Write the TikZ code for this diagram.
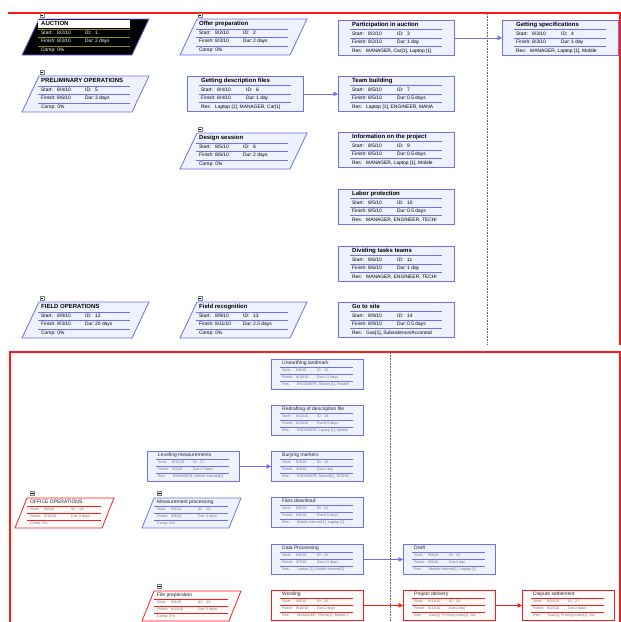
\documentclass[tikz,border=0pt]{standalone}
\usepackage{fontspec}
\setmainfont{Liberation Sans}
\usetikzlibrary{arrows.meta}
\definecolor{myblue}{RGB}{110,110,240}
\definecolor{myfill}{RGB}{238,242,255}
\definecolor{myred}{RGB}{255,25,25}
\definecolor{redfill}{RGB}{255,251,251}
\definecolor{olivetwo}{RGB}{150,140,0}
\colorlet{bc}{myblue}
\colorlet{bf}{myfill}
\tikzset{
 ttl/.style={anchor=west,inner sep=0pt,text height=4.4pt,text depth=1.3pt,font=\fontsize{6}{6}\selectfont\bfseries},
 rowt/.style={anchor=west,inner sep=0pt,text height=3.5pt,text depth=1pt,font=\fontsize{4.9}{5}\selectfont},
 bttl/.style={anchor=west,inner sep=0pt,text height=3.7pt,text depth=1.1pt,font=\fontsize{5}{5}\selectfont,text=black!85},
 browt/.style={anchor=west,inner sep=0pt,text height=2.7pt,text depth=0.8pt,font=\fontsize{3.7}{4}\selectfont,text=black!55},
 sepl/.style={draw=bc,line width=0.7pt},
 bsepl/.style={draw=bc,line width=0.6pt},
 topbox/.style={draw=bc,fill=bf,line width=0.8pt,minimum width=116pt,minimum height=35pt,inner sep=0pt,anchor=north west},
 botbox/.style={draw=bc,fill=bf,line width=0.8pt,minimum width=92pt,minimum height=30pt,inner sep=0pt,anchor=north west},
 paral/.style={draw=bc,fill=bf,line width=0.8pt},
 conn/.style={draw=myblue,line width=0.7pt,-{Triangle[length=4.5pt,width=4.5pt]}},
 rconn/.style={draw=myred,line width=0.8pt,-{Triangle[length=4.5pt,width=4.5pt]}},
 framel/.style={draw=myred,line width=2pt},
 divl/.style={draw=black!60,densely dotted,line width=0.6pt},
}
\newcommand\minusbx[2]{%
 \draw[draw=gray,fill=white,line width=0.4pt] (#1-2,#2-2) rectangle (#1+2,#2+2);
 \draw[line width=0.4pt] (#1-1.2,#2) -- (#1+1.2,#2);}
\newcommand\TopRect[9]{%
\begin{scope}[shift={(#2,#3)}]
 \node[topbox] (#1) at (0,0) {};
 \node[ttl] at (14,4.8) {#4};
 \draw[sepl] (12,9.5) -- (104,9.5);
 \node[rowt] at (14,14) {Start:};\node[rowt] at (30,14) {#5};
 \node[rowt] at (59,14) {ID:};\node[rowt] at (69,14) {#6};
 \draw[sepl] (12,18) -- (104,18);
 \node[rowt] at (14,22.5) {Finish:};\node[rowt] at (30,22.5) {#7};
 \node[rowt] at (59,22.5) {Dur:};\node[rowt] at (69,22.5) {#8};
 \draw[sepl] (12,26.5) -- (104,26.5);
 \node[rowt] at (14,31) {Res:};\node[rowt] at (28,31) {#9};
\end{scope}}
\newcommand\TopPara[8]{%
\begin{scope}[shift={(#2,#3)}]
 \draw[paral] (0,36) -- (17,0) -- (127,0) -- (110,36) -- cycle;
 \coordinate (#1) at (63,18);
 \minusbx{20}{-4}
 \node[ttl] at (19,5) {#4};
 \draw[sepl] (16,10) -- (108,10);
 \node[rowt] at (19,14) {Start:};\node[rowt] at (35,14) {#5};
 \node[rowt] at (63,14) {ID:};\node[rowt] at (73,14) {#6};
 \draw[sepl] (16,18) -- (108,18);
 \node[rowt] at (19,22.5) {Finish:};\node[rowt] at (35,22.5) {#7};
 \node[rowt] at (63,22.5) {Dur:};\node[rowt] at (73,22.5) {#8};
 \draw[sepl] (16,27) -- (108,27);
 \node[rowt] at (19,31.5) {Comp: 0\%};
\end{scope}}
\newcommand\BotRect[9]{%
\begin{scope}[shift={(#2,#3)}]
 \node[botbox] (#1) at (0,0) {};
 \node[bttl] at (11,4.5) {#4};
 \draw[bsepl] (9,8.5) -- (82,8.5);
 \node[browt] at (11,12) {Start:};\node[browt] at (25,12) {#5};
 \node[browt] at (46,12) {ID:};\node[browt] at (53,12) {#6};
 \draw[bsepl] (9,15.5) -- (82,15.5);
 \node[browt] at (11,19) {Finish:};\node[browt] at (25,19) {#7};
 \node[browt] at (46,19) {Dur:};\node[browt] at (53,19) {#8};
 \draw[bsepl] (9,22.5) -- (82,22.5);
 \node[browt] at (11,26) {Res:};\node[browt] at (26,26) {#9};
\end{scope}}
\newcommand\BotPara[8]{%
\begin{scope}[shift={(#2,#3)}]
 \draw[paral] (0,30) -- (12,0) -- (99,0) -- (87,30) -- cycle;
 \coordinate (#1) at (50,15);
 \minusbx{17.5}{-4.5}
 \node[bttl] at (15,4.5) {#4};
 \draw[bsepl] (12,8) -- (86,8);
 \node[browt] at (15,11.5) {Start:};\node[browt] at (29,11.5) {#5};
 \node[browt] at (56,11.5) {ID:};\node[browt] at (64,11.5) {#6};
 \draw[bsepl] (12,15) -- (86,15);
 \node[browt] at (15,18.5) {Finish:};\node[browt] at (29,18.5) {#7};
 \node[browt] at (56,18.5) {Dur:};\node[browt] at (64,18.5) {#8};
 \draw[bsepl] (12,22) -- (86,22);
 \node[browt] at (15,26) {Comp: 0\%};
\end{scope}}
\begin{document}
\begin{tikzpicture}[x=1pt,y=-1pt]
\useasboundingbox[fill=white] (0,0) rectangle (621,622);
% frames and dividers
\draw[framel,line width=2.5pt] (8,13) -- (621,13);
\draw[framel] (619.5,13) -- (619.5,345);
\draw[framel] (10,622) -- (10,352) -- (619.5,352) -- (619.5,622);
\draw[divl] (487,14) -- (487,345);
\draw[divl] (390,353) -- (390,622);
% AUCTION (summary, highlighted)
\begin{scope}[shift={(22,19)}]
 \draw[draw=myblue,fill=black,line width=0.8pt] (0,36) -- (17,0) -- (127,0) -- (110,36) -- cycle;
 \coordinate (auc) at (63,18);
 \minusbx{20}{-4}
 \fill[white] (16,0.8) rectangle (108,8.5);
 \node[ttl] at (19,4.8) {AUCTION};
 \draw[olivetwo,line width=0.7pt] (16,10) -- (108,10);
 \node[rowt,text=white] at (19,14) {Start:};\node[rowt,text=white] at (35,14) {8/2/10};
 \node[rowt,text=white] at (63,14) {ID:};\node[rowt,text=white] at (73,14) {1};
 \draw[olivetwo,line width=0.7pt] (16,18) -- (108,18);
 \node[rowt,text=white] at (19,22.5) {Finish:};\node[rowt,text=white] at (35,22.5) {8/3/10};
 \node[rowt,text=white] at (63,22.5) {Dur:};\node[rowt,text=white] at (73,22.5) {2 days};
 \draw[olivetwo,line width=0.7pt] (16,27) -- (108,27);
 \node[rowt,text=white] at (19,31.5) {Comp: 0\%};
\end{scope}
% top section
\TopPara{pre}{22}{76}{PRELIMINARY OPERATIONS}{8/4/10}{5}{8/6/10}{3 days}
\TopPara{fop}{22}{302}{FIELD OPERATIONS}{8/9/10}{12}{9/3/10}{20 days}
\TopPara{ofp}{180}{19}{Offer preparation}{8/2/10}{2}{8/3/10}{2 days}
\TopPara{des}{180}{133}{Design session}{8/5/10}{8}{8/6/10}{2 days}
\TopPara{fre}{180}{302}{Field recognition}{8/9/10}{13}{8/11/10}{2.5 days}
\TopRect{gdf}{187}{76}{Getting description files}{8/4/10}{6}{8/4/10}{1 day}{Laptop [1], MANAGER, Car[1]}
\TopRect{pa}{338}{20}{Participation in auction}{8/2/10}{3}{8/2/10}{1 day}{MANAGER, Car[1], Laptop [1]}
\TopRect{tb}{338}{76}{Team building}{8/5/10}{7}{8/5/10}{0.5 days}{Laptop [1], ENGINEER, MANA}
\TopRect{inf}{338}{132}{Information on the project}{8/5/10}{9}{8/5/10}{0.5 days}{MANAGER, Laptop [1], Mobile}
\TopRect{lab}{338}{189}{Labor protection}{8/5/10}{10}{8/5/10}{0.5 days}{MANAGER, ENGINEER, TECHI}
\TopRect{dit}{338}{246}{Dividing tasks teams}{8/6/10}{11}{8/6/10}{1 day}{MANAGER, ENGINEER, TECHI}
\TopRect{gts}{338}{302}{Go to site}{8/9/10}{14}{8/9/10}{0.5 days}{Gas[1], Subsistence/Accomod}
\TopRect{gs}{502}{20}{Getting specifications}{8/3/10}{4}{8/3/10}{1 day}{MANAGER, Laptop [1], Mobile}
\draw[conn] (gdf.east) -- (tb.west);
\draw[conn] (pa.east) -- (gs.west);
% bottom section
\BotRect{ul}{271}{359}{Unearthing landmark}{8/9/10}{15}{8/10/10}{1.5 days}{ENGINEER, Shovel [1], Roulett}
\BotRect{rd}{271}{405}{Redrafting of description file}{8/11/10}{16}{8/11/10}{0.5 days}{ENGINEER, Laptop [1], Mobile}
\BotRect{bur}{271}{451}{Burying markers}{9/3/10}{18}{9/3/10}{1 day}{ENGINEER, Shovel[1], TECHN}
\BotRect{lev}{147}{451}{Leveling measurements}{8/11/10}{17}{9/2/10}{17 days}{ENGINEER, Mobile Internet[1]}
\BotRect{fd}{271}{497}{Files download}{9/6/10}{21}{9/6/10}{0.5 days}{Mobile Internet[1], Laptop [1]}
\BotRect{dp}{271}{544}{Data Processing}{9/6/10}{22}{9/7/10}{1.5 days}{Laptop [1], Mobile Internet[1]}
\BotRect{dr}{403}{544}{Draft}{9/8/10}{23}{9/8/10}{1 day}{Mobile Internet[1], Laptop [1]}
\BotPara{mp}{142}{498}{Measurement processing}{9/6/10}{20}{9/8/10}{3 days}
\colorlet{bc}{myred}\colorlet{bf}{redfill}
\BotPara{off}{15}{498}{OFFICE OPERATIONS}{9/6/10}{19}{9/15/10}{8 days}
\BotPara{fp}{142}{591}{File preparation}{9/9/10}{24}{9/13/10}{5 days}
\BotRect{wo}{271}{590}{Wording}{9/9/10}{25}{9/10/10}{2 days}{MANAGER, Phone[1], Mobile I}
\BotRect{pd}{403}{590}{Project delivery}{9/13/10}{26}{9/13/10}{1 day}{Gas[1], Printing costs[1], Mo}
\BotRect{ds}{522}{590}{Dispute settlement}{9/14/10}{27}{9/15/10}{2 days}{Gas[1], Printing costs[1], Mo}
\draw[conn] (lev.east) -- (bur.west);
\draw[conn] (dp.east) -- (dr.west);
\draw[rconn] (wo.east) -- (pd.west);
\draw[rconn] (pd.east) -- (ds.west);
\end{tikzpicture}
\end{document}
